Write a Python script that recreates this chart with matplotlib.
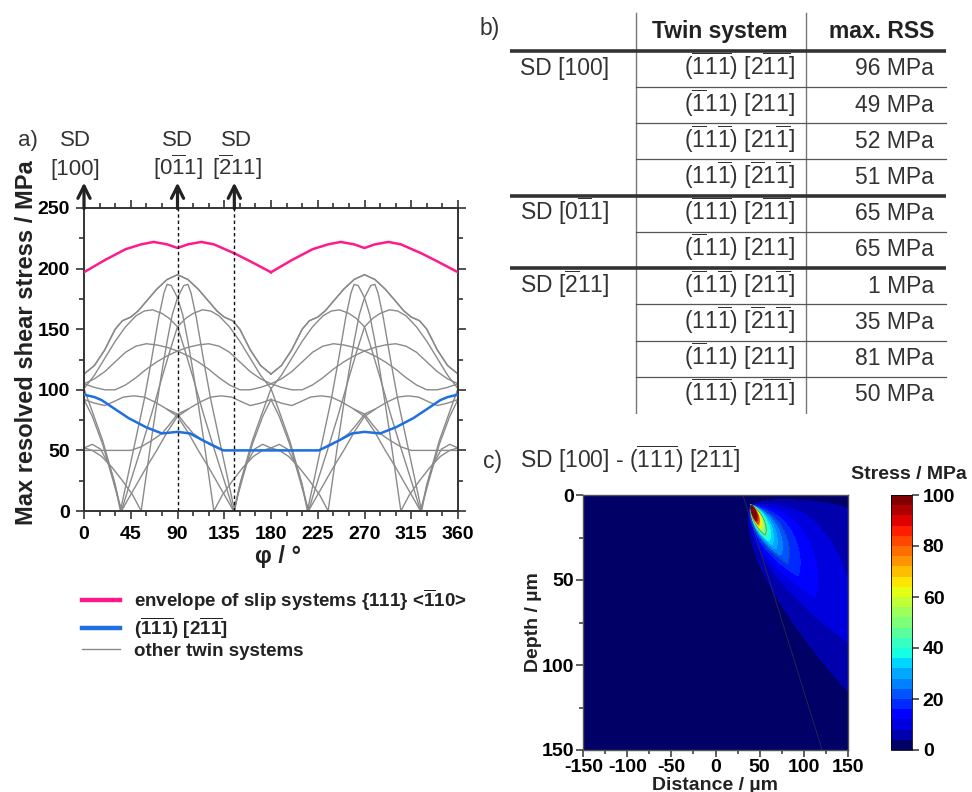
import numpy as np
import matplotlib.pyplot as plt
from matplotlib.lines import Line2D
from matplotlib.ticker import MultipleLocator

plt.rcParams['font.family'] = ['Liberation Sans', 'DejaVu Sans']
plt.rcParams['mathtext.default'] = 'regular'
plt.rcParams['axes.unicode_minus'] = False
plt.rcParams['text.color'] = '#222222'

W, H = 972, 792


def fx(x):
    return x / W


def fy(y):
    return 1 - y / H


# ---------------- a) max resolved shear stress vs scratch direction ----------------
# envelope of the slip systems over one period (repeats every 180 deg)
env_phi = [0, 20, 40, 55, 67, 80, 90, 100, 113, 125, 145, 160, 180]
env_rss = [197, 207, 216, 220, 222, 220, 217, 220, 222, 220, 212.5, 206, 197]

# twin system (-1-1-1)[2-1-1]
blue_phi = [0, 10, 17, 30, 43, 60, 75, 90, 102, 115, 134, 180,
            226, 245, 258, 270, 285, 300, 317, 330, 343, 350, 360]
blue_rss = [96, 94, 91.5, 84, 76.6, 69, 64, 65.3, 64, 58, 50, 50,
            50, 58, 64, 65.3, 64, 69, 76.6, 84, 91.5, 94, 96]

# other twin systems, read over 0..180 deg; each one also shows up mirrored
# (180 - phi) and the whole bundle repeats every 180 deg
tw1_phi = [0, 10, 20, 30, 37, 45, 52, 60, 70, 80, 90, 100, 110, 120, 128, 135, 143, 150, 160, 170, 180]
tw1_rss = [113, 120, 133, 150, 157, 160, 165, 173, 183, 191, 195, 191, 183, 173, 165, 160, 157, 150, 133, 120, 113]
tw2_phi = [0, 8, 16, 24, 30, 35, 42, 50, 58, 65, 72, 77, 80, 84, 90, 95, 100, 105,
           110, 115, 120, 125, 133, 143, 153, 163, 172, 180]
tw2_rss = [52, 55, 51, 38, 22, 0, 28, 60, 92, 125, 160, 180, 187, 186, 176, 162, 140, 115,
           88, 60, 30, 0, 13, 25, 36, 45, 50, 52]
tw3_phi = [0, 10, 20, 30, 40, 50, 58, 66, 75, 82, 90, 97, 105, 115, 125, 135, 144, 152, 162, 172, 180]
tw3_rss = [101, 112, 126, 140, 152, 161, 165, 166, 163, 159, 152, 133, 110, 80, 52, 25, 0, 28, 58, 82, 101]
tw4_phi = [0, 10, 20, 30, 40, 50, 60, 70, 80, 90, 100, 110, 120, 130, 140, 150, 160, 170, 180]
tw4_rss = [105, 109, 115, 123, 131, 136, 138, 137, 135, 132, 128, 123, 117, 110, 104, 100, 100, 102, 105]
tw5_phi = [0, 10, 20, 28, 38, 48, 58, 68, 78, 90, 100, 110, 120, 132, 144, 152, 162, 172, 180]
tw5_rss = [92, 89, 87, 90, 94, 95, 94, 90, 85, 78, 65, 50, 36, 18, 0, 25, 55, 78, 92]
tw6_phi = [0, 15, 30, 45, 55, 65, 75, 82, 90, 100]
tw6_rss = [50, 50, 50, 50, 53, 58, 64, 71, 80, 84]
other_twins = [(tw1_phi, tw1_rss), (tw2_phi, tw2_rss), (tw3_phi, tw3_rss),
               (tw4_phi, tw4_rss), (tw5_phi, tw5_rss), (tw6_phi, tw6_rss)]

# scratch directions marked above the plot
sd_phi = [0, 90, 144.7]
sd_names = ['[100]', '[0$\\overline{1}$1]', '[$\\overline{2}$11]']
sd_label_phi = [-8, 90, 147]

# ---------------- b) table ----------------
sd_groups = ['SD [100]', 'SD [0$\\overline{1}$1]', 'SD [$\\overline{2}$11]']
sd_group_rows = [4, 2, 4]
twin_systems = [
    '($\\overline{111}$) [2$\\overline{11}$]',
    '($\\overline{1}$11) [211]',
    '($\\overline{1}$1$\\overline{1}$) [21$\\overline{1}$]',
    '(11$\\overline{1}$) [$\\overline{2}$1$\\overline{1}$]',
    '($\\overline{111}$) [2$\\overline{11}$]',
    '($\\overline{1}$11) [211]',
    '($\\overline{1}$1$\\overline{1}$) [21$\\overline{1}$]',
    '(11$\\overline{1}$) [$\\overline{2}$1$\\overline{1}$]',
    '($\\overline{1}$11) [211]',
    '($\\overline{111}$) [2$\\overline{11}$]',
]
max_rss = [96, 49, 52, 51, 65, 65, 1, 35, 81, 50]

# ---------------- c) stress map, SD [100] - (-1-1-1)[2-1-1] ----------------
# shape of the stress plume
core_x, core_z = 40.0, 6.0       # hot spot below the surface, um
plume_k = 1100.0                 # stress ~ plume_k / distance along the lobe axis
plume_dir = 36.0                 # lobe axis, deg below the surface
plume_up = 38.0                  # spread towards the surface, deg
plume_down = 0.065               # fall-off towards the twin trace, 1/deg
trace = ([31.0, 121.0], [0.0, 150.0])   # trace of the twin plane
stress_levels = np.arange(0, 101, 4)

grey = '#8a8a8a'
pink = '#ff1a8c'
blue = '#1f6fe0'
dark = '#333333'

fig = plt.figure(figsize=(W / 100, H / 100), dpi=100)

# ---- panel a ----
ax_a = fig.add_axes([fx(84), fy(511), 374 / W, 303 / H])
for phi, rss in other_twins:
    phi = np.asarray(phi, float)
    for shift in (0, 180):
        ax_a.plot(phi + shift, rss, color=grey, lw=1.0, zorder=2)
        ax_a.plot(180 - phi + shift, rss, color=grey, lw=1.0, zorder=2)
for shift in (0, 180):
    ax_a.plot(np.asarray(env_phi) + shift, env_rss, color=pink, lw=1.8, zorder=3)
ax_a.plot(blue_phi, blue_rss, color=blue, lw=1.8, zorder=3)

for p in sd_phi[1:]:
    ax_a.plot([p, p], [0, 250], color='#111111', lw=1.0, ls=(0, (2.5, 2)), zorder=4)
for p, lp, name in zip(sd_phi, sd_label_phi, sd_names):
    ax_a.annotate('', xy=(p, 271), xytext=(p, 249.5),
                  arrowprops=dict(arrowstyle='->', lw=2.3, color='#222222',
                                  mutation_scale=22, shrinkA=0, shrinkB=0),
                  annotation_clip=False)
    ax_a.text(lp, 277.5, name, ha='center', va='baseline', fontsize=16,
              color=dark, clip_on=False)
    ax_a.text(lp, 301.5, 'SD', ha='center', va='baseline', fontsize=16,
              color=dark, clip_on=False)

ax_a.set_xlim(0, 360)
ax_a.set_ylim(0, 250)
ax_a.xaxis.set_major_locator(MultipleLocator(45))
ax_a.xaxis.set_minor_locator(MultipleLocator(15))
ax_a.yaxis.set_major_locator(MultipleLocator(50))
ax_a.yaxis.set_minor_locator(MultipleLocator(25))
ax_a.tick_params(which='both', direction='out', top=True, right=True,
                 color=dark, width=1.2)
ax_a.tick_params(which='major', length=6, labelsize=14, pad=4)
ax_a.tick_params(axis='x', which='major', pad=5)
ax_a.tick_params(which='minor', length=3.5)
for lab in ax_a.get_xticklabels() + ax_a.get_yticklabels():
    lab.set_fontweight('bold')
for sp in ax_a.spines.values():
    sp.set_color(dark)
    sp.set_linewidth(1.4)

fig.text(fx(27), fy(343), 'Max resolved shear stress / MPa', rotation=90,
         ha='center', va='center', fontsize=17, fontweight='bold')
fig.text(fx(278), fy(557), 'φ / °', ha='center', va='center', fontsize=17,
         fontweight='bold')
fig.text(fx(18), fy(146), 'a)', ha='left', va='baseline', fontsize=16, color=dark)

handles = [Line2D([], [], color=pink, lw=3.2), Line2D([], [], color=blue, lw=3.2),
           Line2D([], [], color=grey, lw=1.0)]
labels = ['envelope of slip systems {111} <$\\overline{1}$10>',
          '($\\overline{111}$) [2$\\overline{11}$]', 'other twin systems']
ax_a.legend(handles, labels, loc='upper left', bbox_to_anchor=(fx(82), fy(587)),
            bbox_transform=fig.transFigure, frameon=False,
            prop=dict(size=13.5, weight='bold'), handlelength=2.0,
            handletextpad=0.75, labelspacing=0.12, borderaxespad=0, borderpad=0)

# ---- panel b: table ----
row_h = 36.23
ax_b = fig.add_axes([fx(500), fy(414), 452 / W, 402 / H])
ax_b.set_xlim(500, 952)
ax_b.set_ylim((414 - 50.7) / row_h, (12 - 50.7) / row_h)
ax_b.axis('off')
n_rows = len(max_rss)
for xv in (636, 806):
    ax_b.plot([xv, xv], [(13.3 - 50.7) / row_h, n_rows], color='#777777', lw=1.0)
group_starts = np.cumsum([0] + sd_group_rows[:-1])
for r in range(n_rows):
    if r in group_starts:
        ax_b.plot([510, 946], [r, r], color=dark, lw=2.6, solid_capstyle='butt')
    else:
        ax_b.plot([636, 946], [r, r], color='#555555', lw=0.9)
ax_b.text(720, -0.34, 'Twin system', ha='center', va='baseline', fontsize=16.5,
          fontweight='bold')
ax_b.text(934, -0.34, 'max. RSS', ha='right', va='baseline', fontsize=16.5,
          fontweight='bold')
for start, name in zip(group_starts, sd_groups):
    ax_b.text(565, start + 0.68, name, ha='center', va='baseline', fontsize=16.5,
              color=dark)
for r, (tw, val) in enumerate(zip(twin_systems, max_rss)):
    ax_b.text(795, r + 0.68, tw, ha='right', va='baseline', fontsize=16.5, color=dark)
    ax_b.text(934, r + 0.68, f'{val} MPa', ha='right', va='baseline', fontsize=16.5,
              color=dark)
fig.text(fx(480), fy(35), 'b)', ha='left', va='baseline', fontsize=16.5, color=dark)

# ---- panel c: stress map ----
dist = np.linspace(-150, 150, 601)
depth = np.linspace(0, 150, 301)
X, Z = np.meshgrid(dist, depth)
rho = np.hypot(X - core_x, Z - core_z)
theta = np.degrees(np.arctan2(Z - core_z, X - core_x))
axis_dir = plume_dir + 30 * np.exp(-rho / 25)
spread = np.where(theta < axis_dir,
                  np.exp(-((theta - axis_dir) / plume_up) ** 2),
                  np.exp(-plume_down * np.abs(theta - axis_dir)))
stress = plume_k * spread * (1 - np.exp(-Z / 2.5)) / (rho + 1)
stress = np.clip(stress, 0, 99.9)

band_colors = plt.get_cmap('jet')(np.linspace(0, 1, len(stress_levels) - 1))
band_colors[0] = (0.0, 0.0, 0.4, 1.0)
ax_c = fig.add_axes([fx(583.3), fy(750), 264.4 / W, 255 / H])
cs = ax_c.contourf(dist, depth, stress, levels=stress_levels, colors=band_colors)
ax_c.contour(dist, depth, stress, levels=[20, 44, 72], colors='#333333',
             linewidths=0.5, alpha=0.6)
ax_c.plot(trace[0], trace[1], color='#444444', lw=0.6, alpha=0.6)
ax_c.set_xlim(-150, 150)
ax_c.set_ylim(150, 0)
ax_c.xaxis.set_major_locator(MultipleLocator(50))
ax_c.xaxis.set_minor_locator(MultipleLocator(25))
ax_c.yaxis.set_major_locator(MultipleLocator(50))
ax_c.yaxis.set_minor_locator(MultipleLocator(25))
ax_c.tick_params(which='both', direction='out', color=dark, width=1.1)
ax_c.tick_params(which='major', length=5, labelsize=14, pad=1.5)
ax_c.tick_params(which='minor', length=3)
for lab in ax_c.get_xticklabels() + ax_c.get_yticklabels():
    lab.set_fontweight('bold')
for sp in ax_c.spines.values():
    sp.set_color('#555555')
    sp.set_linewidth(1.0)

fig.text(fx(533), fy(622), 'Depth / µm', rotation=90, ha='center', va='center',
         fontsize=14, fontweight='bold')
fig.text(fx(715), fy(785), 'Distance / µm', ha='center', va='center',
         fontsize=14, fontweight='bold')
fig.text(fx(483), fy(468), 'c)', ha='left', va='baseline', fontsize=16.5, color=dark)
fig.text(fx(520), fy(468), 'SD [100] - ($\\overline{111}$) [2$\\overline{11}$]',
         ha='left', va='baseline', fontsize=16.5, color=dark)

cax = fig.add_axes([fx(890.7), fy(750), 21 / W, 255 / H])
cb = fig.colorbar(cs, cax=cax, ticks=range(0, 101, 20))
cb.outline.set_linewidth(0.6)
cax.tick_params(length=5, width=1.1, labelsize=14, pad=3, color=dark)
for lab in cax.get_yticklabels():
    lab.set_fontweight('bold')
fig.text(fx(851), fy(475), 'Stress / MPa', ha='left', va='center', fontsize=14,
         fontweight='bold')

fig.savefig('out.png', dpi=100)
